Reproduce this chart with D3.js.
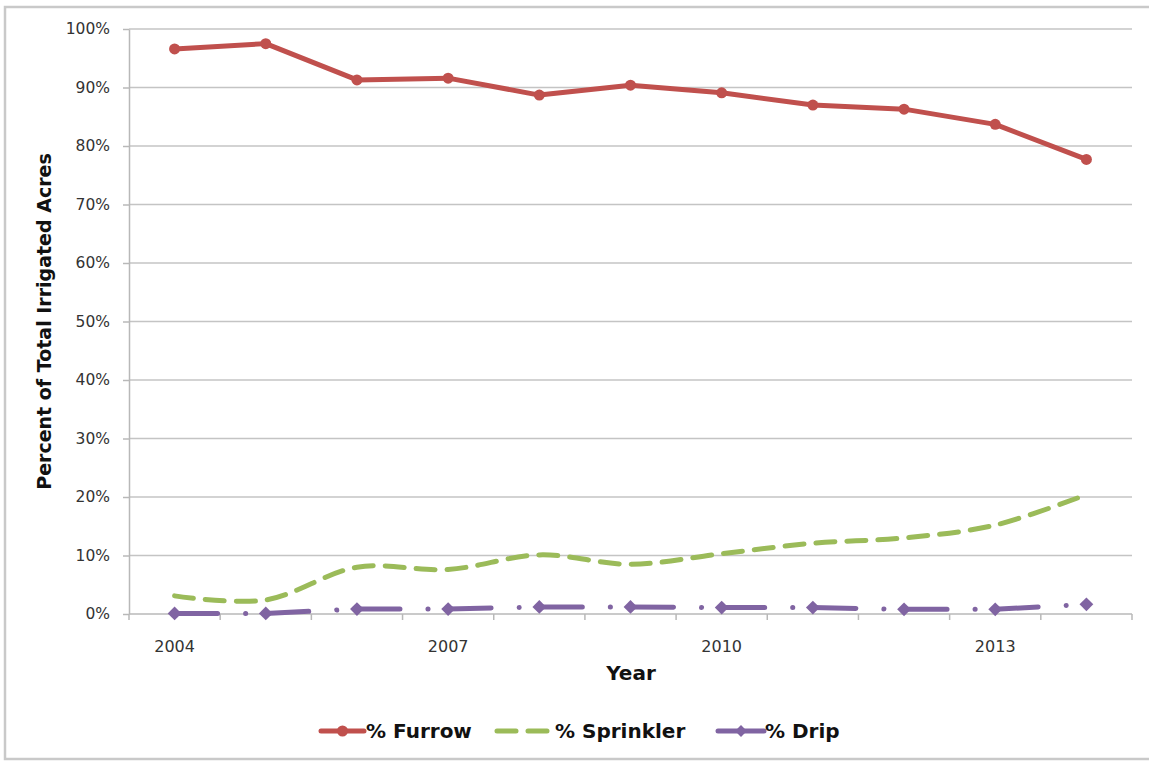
<!DOCTYPE html>
<html>
<head>
<meta charset="utf-8">
<script src="https://cdn.jsdelivr.net/npm/d3@7"></script>
<style>
  html, body { margin: 0; padding: 0; background: #fff; }
  svg { display: block; }
</style>
</head>
<body>
<svg id="chart" width="1149" height="763"></svg>
<script>
// Irrigation method shares by year
const years = ["2004","2005","2006","2007","2008","2009","2010","2011","2012","2013","2014"];
const furrow    = [96.6, 97.5, 91.3, 91.6, 88.7, 90.4, 89.1, 87.0, 86.3, 83.7, 77.7];
const sprinkler = [3.1, 2.4, 8.0, 7.6, 10.1, 8.5, 10.3, 12.1, 13.0, 15.2, 20.4];
const drip      = [0.1, 0.1, 0.85, 0.85, 1.2, 1.2, 1.1, 1.1, 0.8, 0.8, 1.65];
const yTicks    = [0,10,20,30,40,50,60,70,80,90,100];
const labelledYears = ["2004","2007","2010","2013"];
const seriesNames = ["% Furrow", "% Sprinkler", "% Drip"];

const RED = "#c0504d", GREEN = "#9bbb59", PURPLE = "#8064a2";
const FONT = "'DejaVu Sans', Verdana, sans-serif";

const svg = d3.select("#chart");

// outer chart frame
svg.append("rect")
  .attr("x", 5).attr("y", 7).attr("width", 1160).attr("height", 752)
  .attr("fill", "#fff").attr("stroke", "#c9c9c9").attr("stroke-width", 2.5);

const plotLeft = 129, plotRight = 1132, plotTop = 29, plotBottom = 614;

const x = d3.scaleBand().domain(years).range([plotLeft, plotRight]).padding(0);
const cx = d => x(d) + x.bandwidth() / 2;
const y = d3.scaleLinear().domain([0, 100]).range([plotBottom, plotTop]);

// horizontal gridlines
svg.append("g")
  .selectAll("line").data(yTicks.filter(t => t > 0)).join("line")
  .attr("x1", plotLeft).attr("x2", plotRight)
  .attr("y1", d => y(d)).attr("y2", d => y(d))
  .attr("stroke", "#c4c4c4").attr("stroke-width", 1.5);

// y axis
const yAxis = svg.append("g")
  .attr("transform", `translate(${plotLeft},0)`)
  .call(d3.axisLeft(y).tickValues(yTicks).tickFormat(d => d + "%").tickSize(6).tickSizeOuter(0).tickPadding(13));
yAxis.select(".domain").attr("stroke", "#b8b8b8").attr("stroke-width", 1.5);
yAxis.selectAll(".tick line").attr("stroke", "#b8b8b8").attr("stroke-width", 1.5);
yAxis.selectAll(".tick text")
  .attr("font-family", FONT).attr("font-size", 15.5).attr("fill", "#333");

// x axis: baseline, boundary ticks, sparse labels
const xAxis = svg.append("g").attr("transform", `translate(0,${plotBottom})`);
xAxis.append("line").attr("x1", plotLeft).attr("x2", plotRight).attr("y1", 0).attr("y2", 0)
  .attr("stroke", "#b8b8b8").attr("stroke-width", 1.5);
const boundaries = years.map(d => x(d)).concat([x.range()[1]]);
xAxis.selectAll("line.bt").data(boundaries).join("line").attr("class", "bt")
  .attr("x1", d => d).attr("x2", d => d).attr("y1", 0).attr("y2", 6)
  .attr("stroke", "#b8b8b8").attr("stroke-width", 1.5);
xAxis.selectAll("text").data(labelledYears).join("text")
  .attr("x", d => cx(d)).attr("y", 38)
  .attr("text-anchor", "middle")
  .attr("font-family", FONT).attr("font-size", 16).attr("fill", "#333")
  .text(d => d);

// axis titles
svg.append("text")
  .attr("transform", `translate(51,${(plotTop + plotBottom) / 2}) rotate(-90)`)
  .attr("text-anchor", "middle")
  .attr("font-family", FONT).attr("font-weight", "bold").attr("font-size", 19).attr("fill", "#111")
  .text("Percent of Total Irrigated Acres");
svg.append("text")
  .attr("x", 631).attr("y", 680)
  .attr("text-anchor", "middle")
  .attr("font-family", FONT).attr("font-weight", "bold").attr("font-size", 20).attr("fill", "#111")
  .text("Year");

const plot = svg.append("g");

// sprinkler: smoothed dashed line
const smooth = d3.line().x((d, i) => cx(years[i])).y(d => y(d)).curve(d3.curveCatmullRom.alpha(0));
plot.append("path").datum(sprinkler)
  .attr("d", smooth)
  .attr("fill", "none").attr("stroke", GREEN).attr("stroke-width", 5)
  .attr("stroke-linecap", "round").attr("stroke-dasharray", "19,12");

// drip: dash-dot segments restarting at each point
const straight = d3.line().x(d => cx(d[0])).y(d => y(d[1]));
const dripPairs = d3.pairs(years.map((yr, i) => [yr, drip[i]]));
plot.selectAll("path.drip").data(dripPairs).join("path").attr("class", "drip")
  .attr("d", straight)
  .attr("fill", "none").attr("stroke", PURPLE).attr("stroke-width", 5)
  .attr("stroke-linecap", "round").attr("stroke-dasharray", "43,28,0.1,26");
plot.selectAll("path.dmark").data(drip).join("path").attr("class", "dmark")
  .attr("transform", (d, i) => `translate(${cx(years[i])},${y(d)}) rotate(45)`)
  .attr("d", d3.symbol(d3.symbolSquare, 95))
  .attr("fill", PURPLE);

// furrow: straight line with round markers
const furrowLine = d3.line().x((d, i) => cx(years[i])).y(d => y(d));
plot.append("path").datum(furrow)
  .attr("d", furrowLine)
  .attr("fill", "none").attr("stroke", RED).attr("stroke-width", 5)
  .attr("stroke-linejoin", "round");
plot.selectAll("circle.fmark").data(furrow).join("circle").attr("class", "fmark")
  .attr("cx", (d, i) => cx(years[i])).attr("cy", d => y(d)).attr("r", 5.5)
  .attr("fill", RED);

// legend
const legend = svg.append("g").attr("transform", "translate(0,731)");
const legendItems = [
  { name: seriesNames[0], x0: 321, x1: 364, tx: 366, color: RED, kind: "circle" },
  { name: seriesNames[1], x0: 497, x1: 548, tx: 555, color: GREEN, kind: "dash" },
  { name: seriesNames[2], x0: 718, x1: 764, tx: 765, color: PURPLE, kind: "diamond" }
];
legendItems.forEach(it => {
  const g = legend.append("g");
  g.append("line").attr("x1", it.x0).attr("x2", it.x1).attr("y1", 0).attr("y2", 0)
    .attr("stroke", it.color).attr("stroke-width", 5).attr("stroke-linecap", "round")
    .attr("stroke-dasharray", it.kind === "dash" ? "19,12" : null);
  const mx = (it.x0 + it.x1) / 2;
  if (it.kind === "circle") {
    g.append("circle").attr("cx", mx).attr("cy", 0).attr("r", 5.5).attr("fill", it.color);
  } else if (it.kind === "diamond") {
    g.append("path").attr("transform", `translate(${mx},0) rotate(45)`)
      .attr("d", d3.symbol(d3.symbolSquare, 70)).attr("fill", it.color);
  }
  g.append("text").attr("x", it.tx).attr("y", 7)
    .attr("font-family", FONT).attr("font-weight", "bold").attr("font-size", 20).attr("fill", "#111")
    .text(it.name);
});
</script>
</body>
</html>
